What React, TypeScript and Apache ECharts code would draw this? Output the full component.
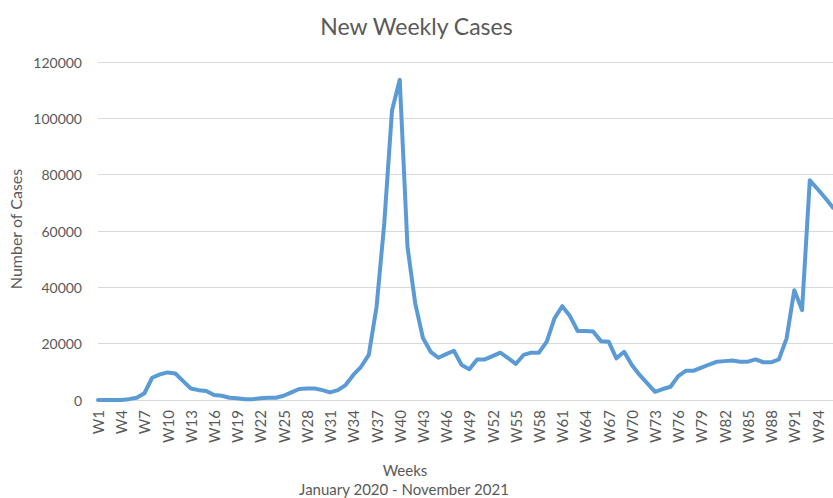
import React, { useEffect, useRef } from "react";
import * as echarts from "echarts";

const weeks: string[] = Array.from({ length: 96 }, (_, i) => "W" + (i + 1));

const newCases: number[] = [
  0, 0, 0, 0, 300, 800, 2400, 7900, 9100, 9800,
  9400, 6700, 4100, 3500, 3200, 1800, 1500, 800, 600, 300,
  300, 600, 800, 800, 1500, 2700, 3900, 4100, 4100, 3500,
  2700, 3500, 5300, 8900, 11800, 16000, 33000, 62700, 102800, 113700,
  54400, 34300, 22000, 17100, 15000, 16300, 17500, 12400, 10900, 14400,
  14400, 15600, 16800, 14900, 12800, 16000, 16800, 16800, 20700, 29000,
  33300, 29800, 24500, 24500, 24300, 20900, 20700, 14800, 17100, 12400,
  8900, 5900, 2900, 3900, 4700, 8500, 10400, 10400, 11500, 12600,
  13600, 13800, 14000, 13600, 13600, 14400, 13400, 13400, 14400, 21900,
  39000, 31900, 78000, 74900, 71700, 68300,
];

const yTicks: number[] = [0, 20000, 40000, 60000, 80000, 100000, 120000];

const titleText = "New Weekly Cases";
const yAxisTitle = "Number of Cases";
const xAxisTitle = "Weeks";
const xAxisSubtitle = "January 2020 - November 2021";

const FONT = "Lato, 'Open Sans', sans-serif";
const TEXT = "#595959";

export default function App() {
  const ref = useRef<HTMLDivElement>(null);
  useEffect(() => {
    document.body.style.margin = "0";
    const chart = echarts.init(ref.current!, null, { renderer: "svg" });
    chart.setOption({
      animation: false,
      backgroundColor: "#ffffff",
      title: {
        text: titleText,
        left: "center",
        top: 9,
        textStyle: { fontFamily: FONT, fontSize: 23, fontWeight: "normal", color: TEXT },
      },
      grid: { left: 98, right: -3, top: 62, bottom: 98, containLabel: false },
      xAxis: {
        type: "category",
        data: weeks,
        boundaryGap: false,
        axisLine: { show: true, lineStyle: { color: "#D9D9D9", width: 1 } },
        axisTick: { show: false },
        axisLabel: {
          interval: 2,
          rotate: 90,
          margin: 10,
          fontFamily: FONT,
          fontSize: 15,
          color: TEXT,
        },
        splitLine: { show: false },
      },
      yAxis: {
        type: "value",
        min: 0,
        max: yTicks[yTicks.length - 1],
        interval: 20000,
        axisLine: { show: false },
        axisTick: { show: false },
        axisLabel: {
          margin: 16,
          fontFamily: FONT,
          fontSize: 14,
          color: TEXT,
          formatter: (v: number) => String(v),
        },
        splitLine: { show: true, lineStyle: { color: "#D9D9D9", width: 1 } },
      },
      graphic: [
        {
          type: "text",
          x: 15,
          y: 229,
          rotation: Math.PI / 2,
          style: {
            text: yAxisTitle,
            fontFamily: FONT,
            fontSize: 16,
            fill: TEXT,
            align: "center",
            verticalAlign: "middle",
          },
        },
        {
          type: "text",
          x: 405,
          y: 470,
          style: {
            text: xAxisTitle,
            fontFamily: FONT,
            fontSize: 15,
            fill: TEXT,
            align: "center",
            verticalAlign: "middle",
          },
        },
        {
          type: "text",
          x: 404,
          y: 489,
          style: {
            text: xAxisSubtitle,
            fontFamily: FONT,
            fontSize: 15,
            fill: TEXT,
            align: "center",
            verticalAlign: "middle",
          },
        },
      ],
      series: [
        {
          type: "line",
          data: newCases,
          showSymbol: false,
          symbol: "none",
          lineStyle: { color: "#5B9BD5", width: 4, join: "round", cap: "round" },
          itemStyle: { color: "#5B9BD5" },
        },
      ],
    });
    return () => chart.dispose();
  }, []);
  return (
    <div
      ref={ref}
      style={{ position: "fixed", left: 0, top: 0, width: 833, height: 498, overflow: "hidden" }}
    />
  );
}
